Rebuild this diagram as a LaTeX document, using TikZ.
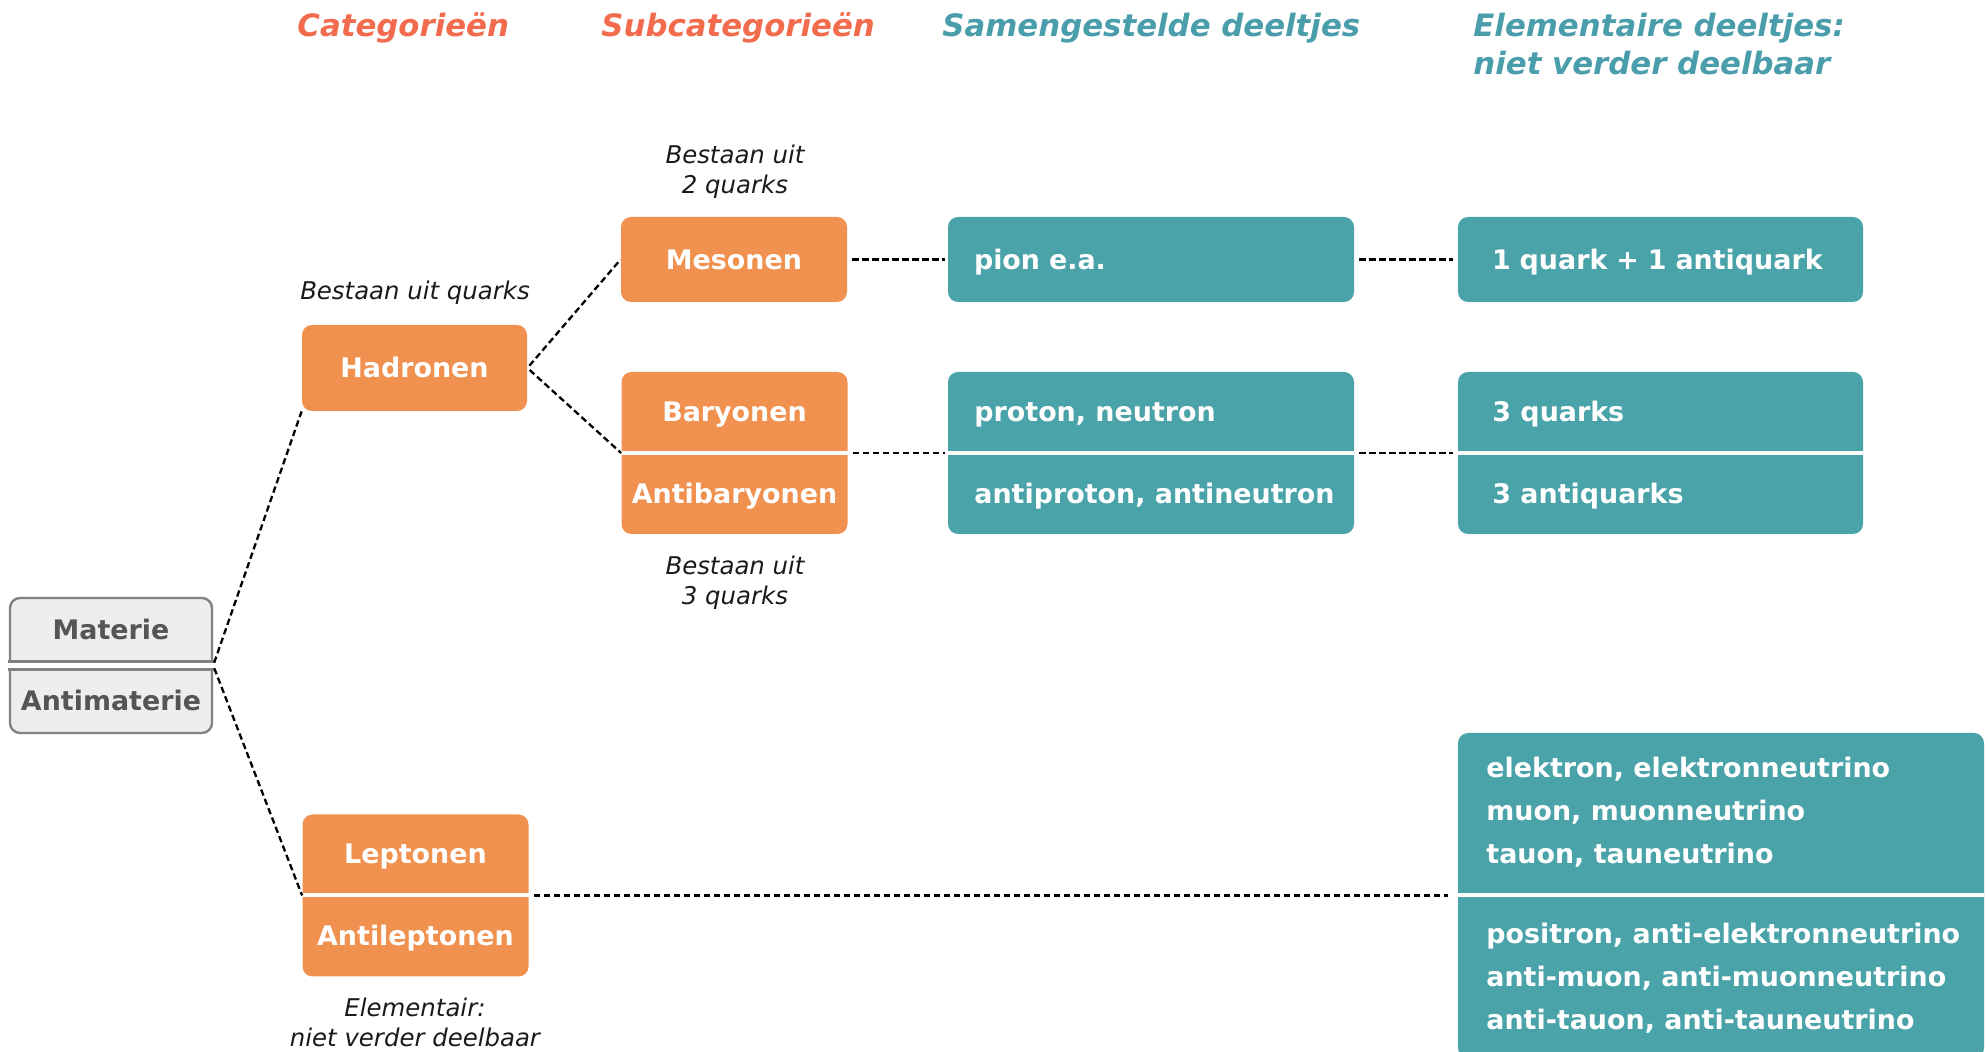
\documentclass[tikz,border=0pt]{standalone}
\usepackage{fontspec}
\setmainfont{DejaVu Sans}[ItalicFont={DejaVu Sans Oblique},BoldFont={DejaVu Sans Bold},BoldItalicFont={DejaVu Sans Bold Oblique}]
\usepackage{xcolor}
\usepackage{tikz}
\usetikzlibrary{calc,positioning}
\definecolor{oranjebox}{HTML}{F0914F}
\definecolor{tealbox}{HTML}{4AA3A9}
\definecolor{oranjehead}{HTML}{F26B4C}
\definecolor{tealhead}{HTML}{4A9DAA}
\definecolor{grijsfill}{HTML}{EEEEEE}
\definecolor{grijsrand}{HTML}{828282}
\definecolor{grijstekst}{HTML}{555555}
\definecolor{notezwart}{HTML}{1A1A1A}
\newcommand{\boxfnt}{\fontsize{13.45pt}{16pt}\selectfont\bfseries}
\newcommand{\leptfnt}{\fontsize{13.45pt}{21.5pt}\selectfont\bfseries}
\newcommand{\hdrfnt}{\fontsize{15.4pt}{19pt}\selectfont\bfseries\itshape}
\newcommand{\notefnt}{\fontsize{12.2pt}{15.2pt}\selectfont\itshape}
\tikzset{
  orbox/.style={fill=oranjebox, rounded corners=5pt, text=white, font=\boxfnt,
                minimum width=113pt, inner sep=0pt, text height=9.8pt, text depth=0pt},
  tlbox/.style={fill=tealbox, rounded corners=5pt, text=white, font=\boxfnt,
                inner sep=0pt, text height=9.8pt, text depth=0pt},
  grbox/.style={fill=grijsfill, draw=grijsrand, line width=1.2pt, rounded corners=5pt,
                minimum width=101pt, minimum height=67.5pt},
  half/.style={text=white, font=\boxfnt, inner sep=0pt, text height=9.8pt, text depth=0pt},
  lepttxt/.style={text=white, font=\leptfnt, align=left, inner sep=0pt, anchor=west},
  hdr/.style={font=\hdrfnt, inner sep=0pt, anchor=base west},
  note/.style={font=\notefnt, text=notezwart, align=center, inner sep=0pt},
  dashlink/.style={dash pattern=on 3.2pt off 1.8pt, line width=1.15pt, black},
  divider/.style={white, line width=2pt},
  grline/.style={grijsrand, line width=1.2pt, line cap=rect},
}

\begin{document}
\begin{tikzpicture}[x=0.5pt, y=-0.5pt]
  \useasboundingbox (0,0) rectangle (1988,1052);
  % Kolomkoppen
  \node[hdr, text=oranjehead] (hcat) at (297,37) {Categorieën};
  \node[hdr, text=oranjehead] (hsub) at (601,37) {Subcategorieën};
  \node[hdr, text=tealhead] (hsam) at (942,37) {Samengestelde deeltjes};
  \node[hdr, text=tealhead, anchor=west, align=left] (helem) at (1473,44)
    {Elementaire deeltjes:\\[0pt]niet verder deelbaar};
  % Materie / Antimaterie
  \node[grbox] (mat) at (111,665.5) {};
  \fill[white] ($(mat.west)+(-4,-4)$) rectangle ($(mat.east)+(4,4)$);
  \draw[grline] ($(mat.west)+(0,-4)$) -- ($(mat.east)+(0,-4)$);
  \draw[grline] ($(mat.west)+(0,4)$) -- ($(mat.east)+(0,4)$);
  \node[half, text=grijstekst] (matT) at (111,630) {Materie};
  \node[half, text=grijstekst] (amatT) at (111,701) {Antimaterie};
  % Categorieen
  \node[orbox, minimum width=112.5pt, minimum height=43pt] (had) at (414.5,368) {Hadronen};
  \node[orbox, minimum height=81pt] (lep) at (415.5,895.5) {};
  \draw[divider] (lep.west) -- (lep.east);
  \node[half] (lepT) at (415.5,854) {Leptonen};
  \node[half] (alepT) at (415.5,936) {Antileptonen};
  \node[note] (nhad) at (415,292.5) {Bestaan uit quarks};
  \node[note] (nlep) at (415,1022.5) {Elementair:\\niet verder deelbaar};
  % Subcategorieen
  \node[orbox, minimum height=42.5pt] (mes) at (734,259.5) {Mesonen};
  \node[orbox, minimum height=81pt] (bar) at (734.5,453) {};
  \draw[divider] (bar.west) -- (bar.east);
  \node[half] (barT) at (734.5,412) {Baryonen};
  \node[half] (abarT) at (734.5,494) {Antibaryonen};
  \node[note] (nmes) at (735,171.5) {Bestaan uit\\2 quarks};
  \node[note] (nbar) at (735,582.5) {Bestaan uit\\3 quarks};
  % Samengestelde deeltjes
  \node[tlbox, minimum width=203pt, minimum height=42.5pt, text width=177pt,
        inner xsep=13pt, align=left] (pion) at (1151,259.5) {pion e.a.};
  \node[tlbox, minimum width=203pt, minimum height=81pt] (prot) at (1151,453) {};
  \draw[divider] (prot.west) -- (prot.east);
  \node[half, anchor=west] (protT) at (974,412) {proton, neutron};
  \node[half, anchor=west] (aprotT) at (974,494) {antiproton, antineutron};
  % Elementaire deeltjes
  \node[tlbox, minimum width=202.5pt, minimum height=42.5pt, text width=168.5pt,
        inner xsep=17pt, align=left] (qrk1) at (1660.5,259.5) {1 quark + 1 antiquark};
  \node[tlbox, minimum width=202.5pt, minimum height=81pt] (qrk3) at (1660.5,453) {};
  \draw[divider] (qrk3.west) -- (qrk3.east);
  \node[half, anchor=west] (q3T) at (1492,412) {3 quarks};
  \node[half, anchor=west] (aq3T) at (1492,494) {3 antiquarks};
  \node[tlbox, minimum width=263pt, minimum height=162.5pt] (lept) at (1721,895.5) {};
  \draw[divider] (lept.west) -- (lept.east);
  \node[lepttxt] (leptT) at (1486,812.5)
    {elektron, elektronneutrino\\muon, muonneutrino\\tauon, tauneutrino};
  \node[lepttxt] (aleptT) at (1486,978)
    {positron, anti-elektronneutrino\\anti-muon, anti-muonneutrino\\anti-tauon, anti-tauneutrino};
  % Verbindingen
  \draw[dashlink, shorten <=1.5pt] (mat.east) -- (had.south west);
  \draw[dashlink, shorten <=1.5pt] (mat.east) -- (lep.west);
  \draw[dashlink, shorten <=1.5pt] (had.east) -- (mes.west);
  \draw[dashlink, shorten <=1.5pt] (had.east) -- (bar.west);
  \draw[dashlink, shorten <=2.5pt, shorten >=1.5pt] (mes.east) -- (pion.west);
  \draw[dashlink, shorten <=2.5pt, shorten >=1.5pt] (bar.east) -- (prot.west);
  \draw[dashlink, shorten <=2.5pt, shorten >=2.5pt] (pion.east) -- (qrk1.west);
  \draw[dashlink, shorten <=2.5pt, shorten >=2.5pt] (prot.east) -- (qrk3.west);
  \draw[dashlink, shorten <=2.5pt, shorten >=5pt] (lep.east) -- (lept.west);
\end{tikzpicture}
\end{document}
